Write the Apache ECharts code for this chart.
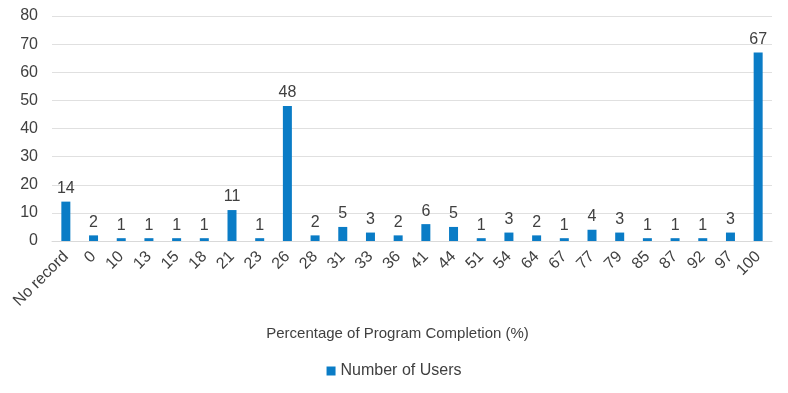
<!DOCTYPE html>
<html>
<head>
<meta charset="utf-8">
<script src="https://cdn.jsdelivr.net/npm/echarts@6/dist/echarts.min.js"></script>
<style>
  html, body { margin: 0; padding: 0; background: #fff; }
  #chart { width: 788px; height: 393px; }
</style>
</head>
<body>
<div id="chart"></div>
<script>
var categories = ['No record', '0', '10', '13', '15', '18', '21', '23', '26', '28', '31', '33', '36',
  '41', '44', '51', '54', '64', '67', '77', '79', '85', '87', '92', '97', '100'];
var users = [14, 2, 1, 1, 1, 1, 11, 1, 48, 2, 5, 3, 2, 6, 5, 1, 3, 2, 1, 4, 3, 1, 1, 1, 3, 67];
var yTicks = [0, 80, 10];  // min, max, interval

var chart = echarts.init(document.getElementById('chart'));
var font = 'Liberation Sans, Arial, sans-serif';

chart.setOption({
  animation: false,
  textStyle: { fontFamily: font },
  grid: { left: 52, right: 16, top: 16, bottom: 152, containLabel: false },
  legend: {
    data: ['Number of Users'],
    bottom: 9,
    left: 'center',
    itemWidth: 9,
    itemHeight: 9,
    itemGap: 4,
    icon: 'rect',
    textStyle: { fontSize: 16, color: '#404040', fontFamily: font }
  },
  xAxis: {
    type: 'category',
    data: categories,
    name: 'Percentage of Program Completion (%)',
    nameLocation: 'middle',
    nameGap: 85,
    nameTextStyle: { fontSize: 15, color: '#404040', fontFamily: font, padding: [0, 29, 0, 0] },
    axisLine: { show: true, lineStyle: { color: '#d9d9d9', width: 1 } },
    axisTick: { show: false },
    axisLabel: { rotate: 45, interval: 0, fontSize: 16, color: '#404040', margin: 13, fontFamily: font }
  },
  yAxis: {
    type: 'value',
    min: yTicks[0],
    max: yTicks[1],
    interval: yTicks[2],
    axisLine: { show: false },
    axisTick: { show: false },
    axisLabel: { fontSize: 16, color: '#404040', margin: 14, fontFamily: font },
    splitLine: { lineStyle: { color: '#e0e0e0', width: 1 } }
  },
  series: [{
    name: 'Number of Users',
    type: 'bar',
    data: users,
    barWidth: 9,
    itemStyle: { color: '#0a7cc6' },
    label: { show: true, position: 'top', distance: 5, fontSize: 16, color: '#404040', fontFamily: font }
  }]
});
</script>
</body>
</html>
